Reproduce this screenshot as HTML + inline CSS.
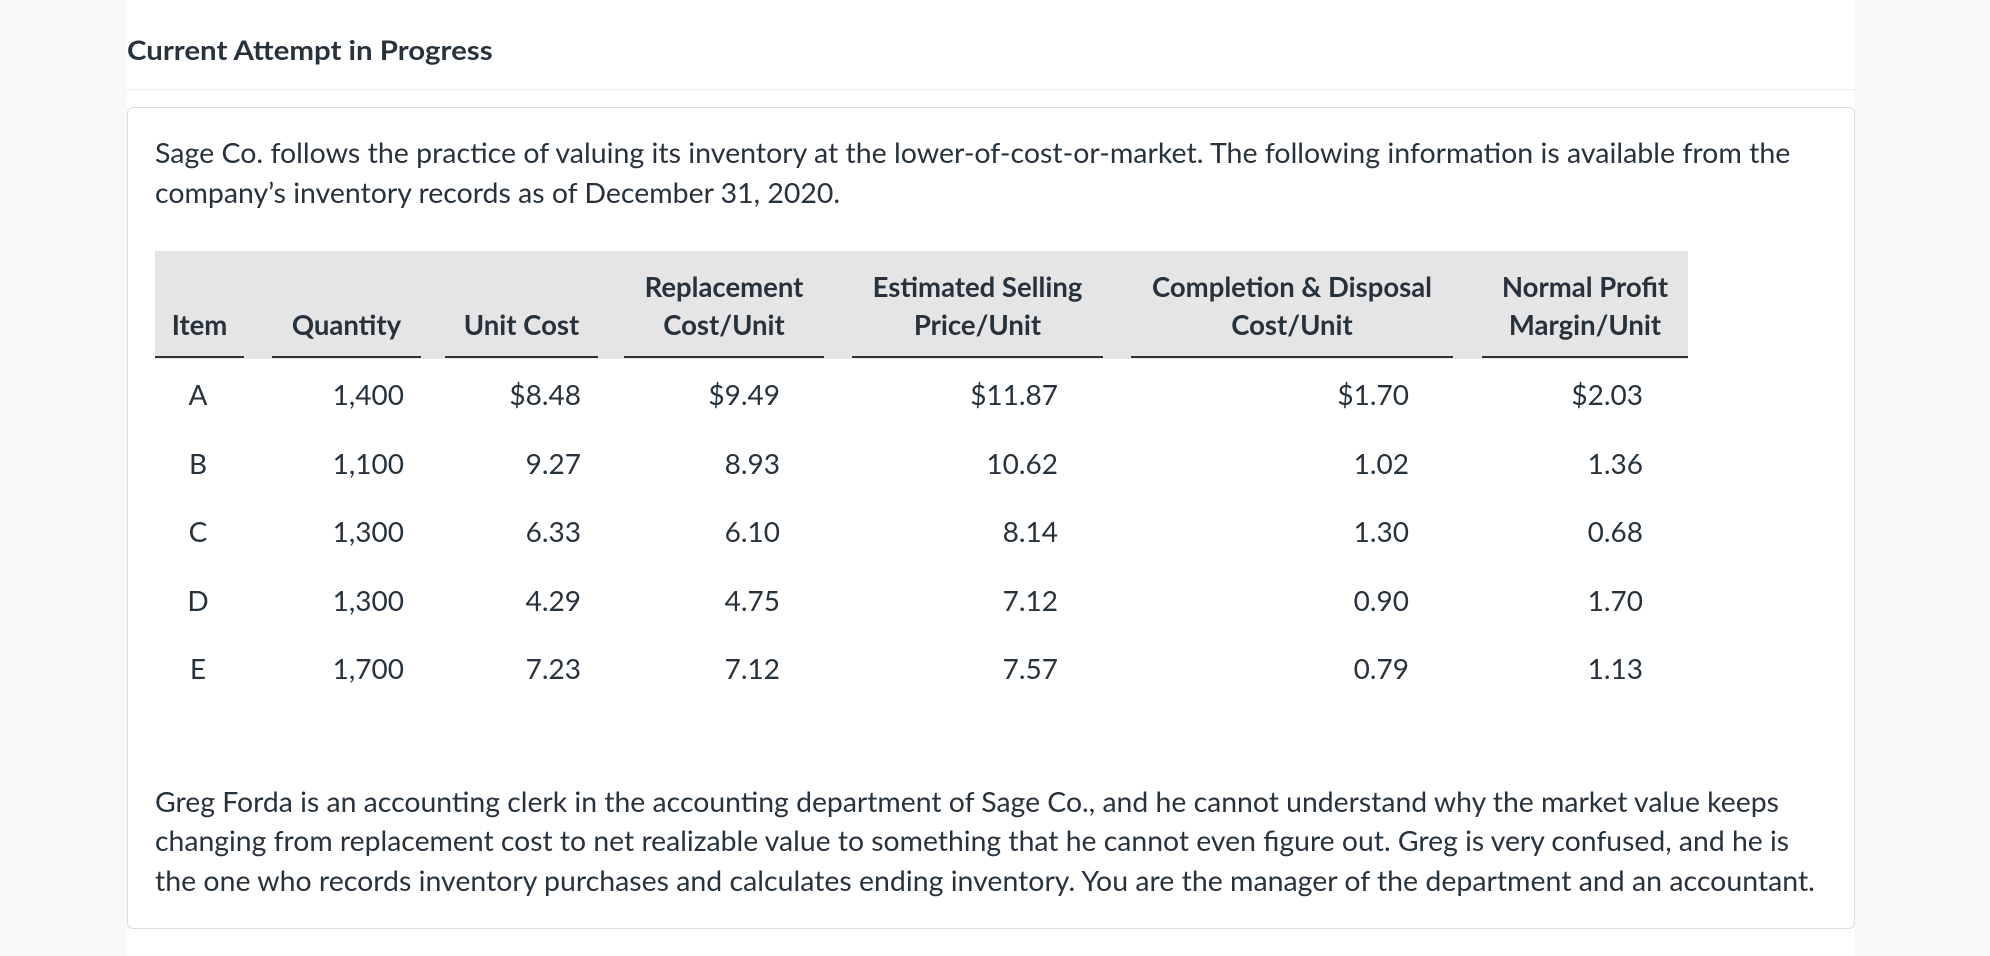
<!DOCTYPE html>
<html><head><meta charset="utf-8">
<style>
body{margin:0;width:1990px;height:956px;background:#f8f8f8;font-family:"Lato","Liberation Sans",sans-serif;color:#27323d;position:relative;overflow:hidden}
.panel{position:absolute;left:127px;top:0;width:1728px;height:956px;background:#fff}
.t{position:absolute;white-space:nowrap;transform-origin:0 50%;line-height:1}
.title{font-weight:bold;font-size:27px}
.sep{position:absolute;left:127px;top:89px;width:1728px;height:1px;background:#ececec}
.card{position:absolute;left:127px;top:107px;width:1726px;height:820px;border:1px solid #dcdcdc;border-radius:6px;background:#fff}
.p{font-size:28px}
.hdr{position:absolute;left:155px;top:251px;width:1533px;height:108px;background:#e5e5e5}
.hc{position:absolute;top:251px;height:107px;border-bottom:2px solid #333;font-weight:bold;font-size:27.5px;text-align:center;display:flex;flex-direction:column;justify-content:flex-end;padding-bottom:12px;box-sizing:border-box;line-height:38px}
.cell{position:absolute;font-size:28px;line-height:1;white-space:nowrap}
</style></head><body>
<div class="panel"></div>
<div class="t title" data-w="366" style="left:127px;top:36px">Current Attempt in Progress</div>
<div class="sep"></div>
<div class="card"></div>
<div class="t p" data-w="1635" style="left:155px;top:138px">Sage Co. follows the practice of valuing its inventory at the lower-of-cost-or-market. The following information is available from the</div>
<div class="t p" data-w="685" style="left:155px;top:178px">company’s inventory records as of December 31, 2020.</div>
<div class="hdr"></div>
<div class="hc" style="left:155px;width:89px">Item</div>
<div class="hc" style="left:272px;width:149px">Quantity</div>
<div class="hc" style="left:445px;width:153px">Unit Cost</div>
<div class="hc" style="left:624px;width:200px"><span>Replacement</span><span>Cost/Unit</span></div>
<div class="hc" style="left:852px;width:251px"><span>Estimated Selling</span><span>Price/Unit</span></div>
<div class="hc" style="left:1131px;width:322px"><span>Completion &amp; Disposal</span><span>Cost/Unit</span></div>
<div class="hc" style="left:1482px;width:206px"><span>Normal Profit</span><span>Margin/Unit</span></div>
<div id="rows"></div>
<div class="t p" data-w="1624" style="left:155px;top:787px">Greg Forda is an accounting clerk in the accounting department of Sage Co., and he cannot understand why the market value keeps</div>
<div class="t p" data-w="1634" style="left:155px;top:826px">changing from replacement cost to net realizable value to something that he cannot even figure out. Greg is very confused, and he is</div>
<div class="t p" data-w="1660" style="left:155px;top:866px">the one who records inventory purchases and calculates ending inventory. You are the manager of the department and an accountant.</div>
<script>
const items=["A","B","C","D","E"];
const quantity=["1,400","1,100","1,300","1,300","1,700"];
const unitCost=["$8.48","9.27","6.33","4.29","7.23"];
const replacement=["$9.49","8.93","6.10","4.75","7.12"];
const selling=["$11.87","10.62","8.14","7.12","7.57"];
const completion=["$1.70","1.02","1.30","0.90","0.79"];
const margin=["$2.03","1.36","0.68","1.70","1.13"];
const cols=[[quantity,404,"quantity"],[unitCost,581,"unit-cost"],[replacement,780,"replacement"],[selling,1058,"selling"],[completion,1409,"completion"],[margin,1643,"margin"]];
const rows=document.getElementById('rows');
items.forEach((it,i)=>{
  const y=395+i*68.5-15;
  const c=document.createElement('div');
  c.className='cell';
  
  
  c.style.left='158px';c.style.width='80px';c.style.textAlign='center';c.style.top=y+'px';
  c.textContent=it;rows.appendChild(c);
  cols.forEach(([arr,right,name])=>{
    const d=document.createElement('div');
    d.className='cell';
    
    
    d.style.right=(1990-right)+'px';d.style.top=y+'px';
    d.textContent=arr[i];rows.appendChild(d);
  });
});
document.querySelectorAll('[data-w]').forEach(el=>{
  const w=+el.getAttribute('data-w');const s=w/el.scrollWidth;
  el.style.transform='scaleX('+s+')';
});
</script>
</body></html>
